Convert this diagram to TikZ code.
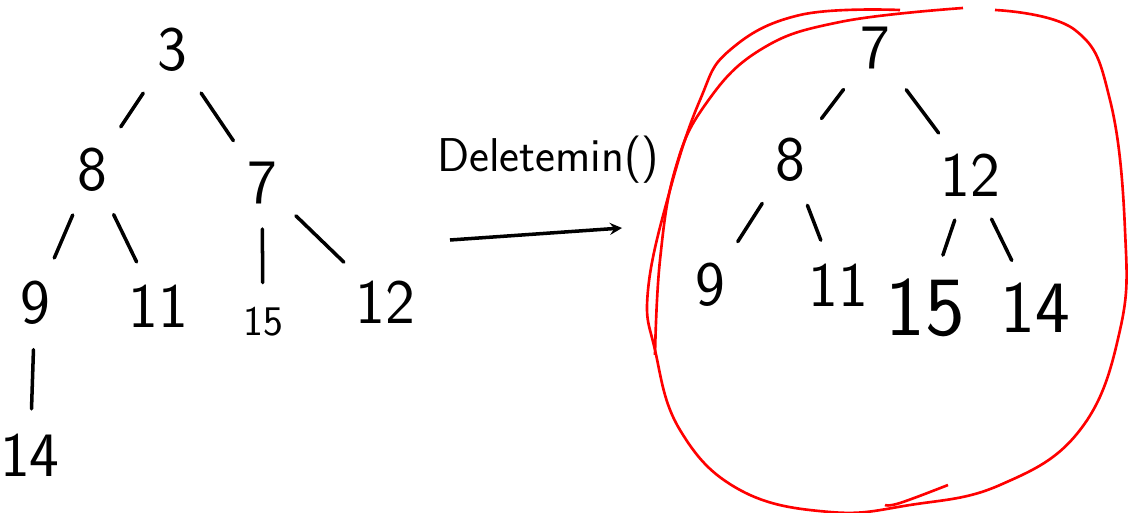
\documentclass[tikz,border=0pt]{standalone}
\usepackage{tikz}
\usetikzlibrary{arrows,positioning,calc}

\begin{document}
\begin{tikzpicture}[x=0.02cm,y=-0.02cm,
	num/.style={font=\sffamily\fontsize{36}{40}\selectfont,inner sep=2pt},
	edge/.style={line width=2pt,line cap=round,shorten <=12pt,shorten >=12pt}]
	\useasboundingbox (0,0) rectangle (1136,513);
	% tree before
	\node[num] (a3) at (172,50) {3};
	\node[num] (a8) at (92,170) {8};
	\node[num] (a7) at (262,183) {7};
	\node[num] (a9) at (35,303) {9};
	\node[num] (a11) at (158,306) {11};
	\node[num,font=\sffamily\fontsize{24}{28}\selectfont] (a15) at (263,322) {15};
	\node[num] (a12) at (385,302) {12};
	\node[num] (a14) at (30,455) {14};
	\draw[edge] (a3) -- (a8);
	\draw[edge] (a3) -- (a7);
	\draw[edge] (a8) -- (a9);
	\draw[edge] (a8) -- (a11);
	\draw[edge] (a7) -- (a15);
	\draw[edge] (a7) -- (a12);
	\draw[edge] (a9) -- (a14);
	% the operation
	\coordinate (s) at (450,240);
	\coordinate (t) at (622,228);
	\draw[-stealth,line width=2pt] (s) -- (t);
	\node[font=\sffamily\fontsize{27}{31}\selectfont] (op) at (548,160) {Deletemin()};
	% tree after
	\node[num] (b7) at (875,48) {7};
	\node[num] (b8) at (790,160) {8};
	\node[num] (b12) at (970,175) {12};
	\node[num] (b9) at (710,285) {9};
	\node[num] (b11) at (838,285) {11};
	\node[num,font=\sffamily\fontsize{48}{52}\selectfont] (b15) at (925,308) {15};
	\node[num,font=\sffamily\fontsize{42}{46}\selectfont] (b14) at (1035,308) {14};
	\draw[edge] (b7) -- (b8);
	\draw[edge] (b7) -- (b12);
	\draw[edge] (b8) -- (b9);
	\draw[edge] (b8) -- (b11);
	\draw[edge] (b12) -- (b15);
	\draw[edge] (b12) -- (b14);
	% red loop
	\draw[red,line width=1.5pt] plot[smooth,tension=0.7] coordinates {(900,10) (800,15) (730,50) (700,100) (670,190) (648,290) (655,350) (680,430) (740,490) (830,512) (910,505) (1000,485) (1080,430) (1120,330) (1125,230) (1110,100) (1075,30) (995,10)};
	\draw[red,line width=1.5pt] plot[smooth,tension=0.7] coordinates {(963,8) (840,22) (760,50) (705,105) (675,170) (660,260) (655,355)};
	\draw[red,line width=1.5pt] plot[smooth,tension=0.7] coordinates {(948,485) (900,503) (885,505)};
\end{tikzpicture}
\end{document}
